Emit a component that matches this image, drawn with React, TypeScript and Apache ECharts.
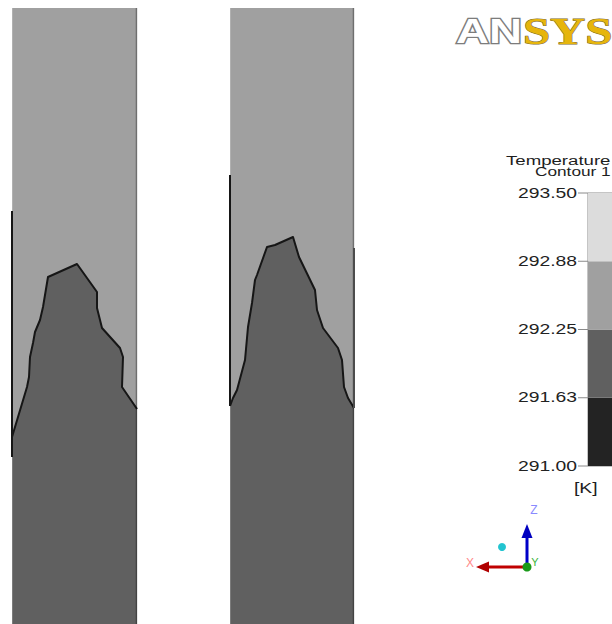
import { useEffect, useRef } from "react";
import * as echarts from "echarts";

// Geometry in cm: two vertical columns, heights measured up from the bottom edge.
const columnSpans: [number, number][] = [
  [0.0, 12.5],
  [21.8, 34.2],
];
const columnTop = 61.6;

// Contour boundary (292.25 K isoline) inside each column: [x, height]
const leftInterface: [number, number][] = [
  [0.0, 18.7], [0.9, 21.7], [1.5, 23.7], [1.7, 24.7], [1.8, 26.7], [2.1, 28.1],
  [2.3, 29.2], [2.8, 30.4], [3.1, 31.7], [3.6, 34.7], [6.5, 36.0], [8.5, 33.2],
  [8.5, 31.6], [9.0, 29.6], [10.8, 27.6], [11.1, 26.7], [11.0, 23.7], [12.5, 21.5],
];
const rightInterface: [number, number][] = [
  [21.8, 21.8], [22.1, 22.6], [22.5, 23.4], [23.3, 26.4], [23.6, 29.7], [24.0, 32.1],
  [24.3, 34.4], [24.5, 34.9], [25.5, 37.7], [26.3, 37.9], [28.1, 38.7], [28.7, 36.7],
  [30.3, 33.4], [30.5, 31.4], [31.1, 29.6], [32.6, 27.6], [33.0, 26.4], [33.2, 23.7],
  [33.6, 22.6], [34.2, 21.6],
];
const interfaces = [leftInterface, rightInterface];

// Wall segments drawn as boundary lines: [x, fromHeight, toHeight, kind]
const walls: [number, number, number, number][] = [
  [0.0, 16.7, 41.3, 0],
  [21.8, 21.8, 44.9, 0],
  [34.2, 21.6, 37.6, 1],
];

// Legend levels (K) and band colours from coldest to warmest
const levels = [291.0, 291.625, 292.25, 292.875, 293.5];
const bandColors = ["#232323", "#606060", "#a0a0a0", "#dcdcdc"];
const legendTitle = ["Temperature", "Contour 1"];
const unitLabel = "[K]";

const FONT = "'Liberation Sans', Arial, sans-serif";
const STRETCH = 1.38;

export default function App() {
  const ref = useRef<HTMLDivElement>(null);

  useEffect(() => {
    if (!ref.current) return;
    const chart = echarts.init(ref.current, undefined, { renderer: "svg" });

    const bands = levels.slice(0, -1).map((lo, i) => [0, lo, levels[i + 1], i]);
    const upperColor = bandColors[2];
    const lowerColor = bandColors[1];

    chart.setOption({
      animation: false,
      backgroundColor: "#ffffff",
      grid: [
        { left: 12, top: 8, width: 342, height: 616 },
        { left: 588, top: 193, width: 30, height: 273 },
      ],
      xAxis: [
        { type: "value", gridIndex: 0, min: 0, max: 34.2, show: false },
        { type: "value", gridIndex: 1, min: 0, max: 1, show: false },
      ],
      yAxis: [
        { type: "value", gridIndex: 0, min: 0, max: 61.6, show: false },
        { type: "value", gridIndex: 1, min: 291, max: 293.5, show: false },
      ],
      series: [
        {
          type: "custom",
          xAxisIndex: 0,
          yAxisIndex: 0,
          data: columnSpans.map((s, i) => [s[0], s[1], i]),
          renderItem: (_p: any, api: any) => {
            const i = api.value(2);
            const [x0, x1] = columnSpans[i];
            const tl = api.coord([x0, columnTop]);
            const br = api.coord([x1, 0]);
            const prof = interfaces[i].map((pt) => api.coord(pt));
            const poly = [...prof, api.coord([x1, 0]), api.coord([x0, 0])];
            return {
              type: "group",
              children: [
                {
                  type: "rect",
                  shape: { x: tl[0], y: tl[1], width: br[0] - tl[0], height: br[1] - tl[1] },
                  style: { fill: upperColor },
                },
                { type: "polygon", shape: { points: poly }, style: { fill: lowerColor } },
                {
                  type: "polyline",
                  shape: { points: prof },
                  style: { stroke: "#161616", lineWidth: 2, fill: null, lineJoin: "round" },
                },
                {
                  type: "line",
                  shape: { x1: br[0] - 0.5, y1: tl[1], x2: br[0] - 0.5, y2: br[1] },
                  style: { stroke: "rgba(0,0,0,0.3)", lineWidth: 1.6 },
                },
                {
                  type: "line",
                  shape: { x1: tl[0] + 0.5, y1: tl[1], x2: tl[0] + 0.5, y2: br[1] },
                  style: { stroke: "rgba(255,255,255,0.18)", lineWidth: 1 },
                },
              ],
            };
          },
        },
        {
          type: "custom",
          xAxisIndex: 0,
          yAxisIndex: 0,
          data: walls,
          renderItem: (_p: any, api: any) => {
            const a = api.coord([api.value(0), api.value(1)]);
            const b = api.coord([api.value(0), api.value(2)]);
            const kind = api.value(3);
            return {
              type: "line",
              shape: { x1: a[0], y1: a[1], x2: b[0], y2: b[1] },
              style: { stroke: kind === 0 ? "#161616" : "#4c4c4c", lineWidth: 2 },
            };
          },
        },
        {
          type: "custom",
          xAxisIndex: 1,
          yAxisIndex: 1,
          data: bands,
          renderItem: (_p: any, api: any) => {
            const p0 = api.coord([0, api.value(2)]);
            const p1 = api.coord([1, api.value(1)]);
            return {
              type: "rect",
              shape: { x: p0[0], y: p0[1], width: p1[0] - p0[0], height: p1[1] - p0[1] },
              style: { fill: bandColors[api.value(3)] },
            };
          },
        },
        {
          type: "custom",
          xAxisIndex: 1,
          yAxisIndex: 1,
          data: levels.map((v) => [0, v]),
          renderItem: (_p: any, api: any) => {
            const v = api.value(1);
            const p = api.coord([0, v]);
            return {
              type: "group",
              children: [
                {
                  type: "line",
                  shape: { x1: p[0] - 10, y1: p[1], x2: p[0], y2: p[1] },
                  style: { stroke: "#8a8a8a", lineWidth: 1 },
                },
                {
                  type: "text",
                  x: p[0] - 11,
                  y: p[1],
                  scaleX: STRETCH,
                  style: {
                    text: v.toFixed(2),
                    align: "right",
                    verticalAlign: "middle",
                    fontSize: 14,
                    fontFamily: FONT,
                    fill: "#222222",
                  },
                },
              ],
            };
          },
        },
      ],
      graphic: [
        // colour bar outline
        {
          type: "rect",
          shape: { x: 588, y: 193, width: 40, height: 273 },
          style: { fill: null, stroke: "#8a8a8a", lineWidth: 1 },
        },
        {
          type: "text",
          x: 506,
          y: 160,
          scaleX: STRETCH,
          style: { text: legendTitle[0], fontSize: 13.5, fontFamily: FONT, fill: "#1e1e1e", verticalAlign: "middle" },
        },
        {
          type: "text",
          x: 535,
          y: 171,
          scaleX: STRETCH,
          style: { text: legendTitle[1], fontSize: 12.5, fontFamily: FONT, fill: "#1e1e1e", verticalAlign: "middle" },
        },
        {
          type: "text",
          x: 574,
          y: 488,
          scaleX: STRETCH,
          style: { text: unitLabel, fontSize: 14, fontFamily: FONT, fill: "#1e1e1e", verticalAlign: "middle" },
        },
        // ANSYS logo
        {
          type: "text",
          x: 456,
          y: 31,
          scaleX: 1.27,
          style: {
            text: "AN",
            fontSize: 36,
            fontWeight: "bold",
            fontFamily: FONT,
            fill: "#ffffff",
            stroke: "#7c7c7c",
            lineWidth: 2.5,
            verticalAlign: "middle",
          },
        },
        {
          type: "text",
          x: 523,
          y: 31,
          scaleX: 1.28,
          style: {
            text: "SYS",
            fontSize: 38,
            fontWeight: "bold",
            fontFamily: "'Liberation Serif', 'DejaVu Serif', serif",
            fill: "#e6b50c",
            stroke: "#7a6a35",
            lineWidth: 1,
            verticalAlign: "middle",
          },
        },
        // coordinate triad
        {
          type: "line",
          shape: { x1: 527, y1: 567, x2: 488, y2: 567 },
          style: { stroke: "#c00000", lineWidth: 3 },
        },
        {
          type: "polygon",
          shape: { points: [[476, 567], [489, 561.5], [489, 572.5]] },
          style: { fill: "#b00000" },
        },
        {
          type: "line",
          shape: { x1: 527, y1: 567, x2: 527, y2: 537 },
          style: { stroke: "#0000c8", lineWidth: 3 },
        },
        {
          type: "polygon",
          shape: { points: [[527, 524], [521.5, 538], [532.5, 538]] },
          style: { fill: "#0000c0" },
        },
        { type: "circle", shape: { cx: 527, cy: 567, r: 4.5 }, style: { fill: "#1a9a1a" } },
        { type: "circle", shape: { cx: 502, cy: 547, r: 4 }, style: { fill: "#22c4d0" } },
        {
          type: "text",
          x: 470,
          y: 563,
          style: { text: "X", fontSize: 12, fontFamily: FONT, fill: "#ff8a8a", align: "center", verticalAlign: "middle" },
        },
        {
          type: "text",
          x: 534,
          y: 510,
          style: { text: "Z", fontSize: 12, fontFamily: FONT, fill: "#8a8aff", align: "center", verticalAlign: "middle" },
        },
        {
          type: "text",
          x: 535,
          y: 562,
          style: { text: "Y", fontSize: 11, fontFamily: FONT, fill: "#3cb43c", align: "center", verticalAlign: "middle" },
        },
      ],
    });

    return () => chart.dispose();
  }, []);

  return (
    <div
      ref={ref}
      style={{ position: "absolute", left: 0, top: 0, width: 612, height: 624, background: "#fff" }}
    />
  );
}
